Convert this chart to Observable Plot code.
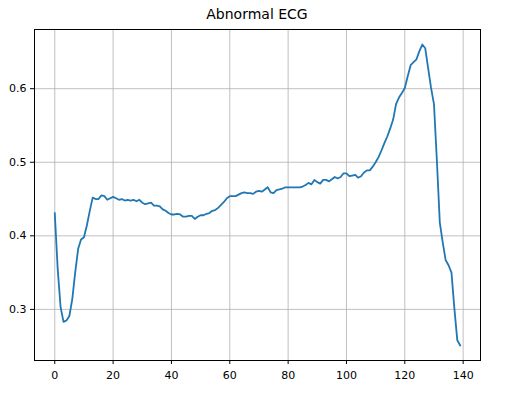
<!DOCTYPE html>
<html>
<head>
<meta charset="utf-8">
<script src="https://cdn.jsdelivr.net/npm/d3@7"></script>
<script src="https://cdn.jsdelivr.net/npm/@observablehq/plot@0.6"></script>
<style>
  body { margin: 0; background: white; }
  #title {
    width: 514px;
    height: 22px;
    padding-top: 6px;
    text-align: center;
    font: 14px "DejaVu Sans", sans-serif;
    line-height: 17px;
    color: black;
  }
</style>
</head>
<body>
<div id="title">Abnormal ECG</div>
<div id="plot"></div>
<script>
// ecg values, one per sample (0..139)
const ecgValues = [
  0.431, 0.355, 0.303, 0.283, 0.285, 0.291, 0.314, 0.350, 0.382, 0.395,
  0.398, 0.414, 0.434, 0.452, 0.450, 0.450, 0.455, 0.454, 0.449, 0.451,
  0.453, 0.451, 0.449, 0.450, 0.448, 0.449, 0.448, 0.449, 0.447, 0.449,
  0.445, 0.443, 0.444, 0.445, 0.441, 0.441, 0.440, 0.436, 0.434, 0.431,
  0.429, 0.429, 0.430, 0.429, 0.426, 0.426, 0.427, 0.427, 0.423, 0.426,
  0.428, 0.428, 0.430, 0.431, 0.434, 0.435, 0.438, 0.442, 0.446, 0.451,
  0.454, 0.454, 0.454, 0.456, 0.458, 0.459, 0.458, 0.458, 0.457, 0.460,
  0.461, 0.460, 0.463, 0.466, 0.459, 0.458, 0.462, 0.463, 0.464, 0.466,
  0.466, 0.466, 0.466, 0.466, 0.466, 0.467, 0.469, 0.472, 0.470, 0.476,
  0.473, 0.471, 0.476, 0.476, 0.474, 0.477, 0.480, 0.478, 0.480, 0.485,
  0.485, 0.481, 0.482, 0.483, 0.479, 0.481, 0.486, 0.489, 0.489, 0.494,
  0.500, 0.507, 0.516, 0.526, 0.535, 0.546, 0.558, 0.579, 0.588, 0.594,
  0.601, 0.617, 0.632, 0.636, 0.640, 0.651, 0.660, 0.655, 0.628, 0.601,
  0.579, 0.502, 0.418, 0.391, 0.367, 0.360, 0.350, 0.301, 0.258, 0.251
];

// tick labels
const xTicks = [0, 20, 40, 60, 80, 100, 120, 140];
const yTicks = [0.3, 0.4, 0.5, 0.6];

// build rows for the line mark
const ecgData = ecgValues.map((v, i) => ({sample: i, value: v}));

// matplotlib style padding of 5% around the data
const xPad = (ecgValues.length - 1) * 0.05;
const yMin = d3.min(ecgValues), yMax = d3.max(ecgValues);
const yPad = (yMax - yMin) * 0.05;

const chart = Plot.plot({
  width: 514,
  height: 372,
  marginTop: 1,
  marginLeft: 34,
  marginRight: 34,
  marginBottom: 40,
  style: {fontFamily: "DejaVu Sans, sans-serif", fontSize: "11px", color: "black", background: "white"},
  x: {domain: [-xPad, ecgValues.length - 1 + xPad]},
  y: {domain: [yMin - yPad, yMax + yPad]},
  marks: [
    Plot.gridX(xTicks, {stroke: "#b0b0b0", strokeOpacity: 1, strokeWidth: 0.8}),
    Plot.gridY(yTicks, {stroke: "#b0b0b0", strokeOpacity: 1, strokeWidth: 0.8}),
    Plot.line(ecgData, {x: "sample", y: "value", stroke: "#1f77b4", strokeWidth: 1.8}),
    Plot.axisX({ticks: xTicks, tickSize: 4, tickPadding: 7, label: null}),
    Plot.axisY({ticks: yTicks, tickSize: 4, tickPadding: 4, tickFormat: d3.format(".1f"), label: null}),
    Plot.frame({stroke: "black", strokeWidth: 1})
  ]
});

// insert into html
document.querySelector("#plot").append(chart);
</script>
</body>
</html>
